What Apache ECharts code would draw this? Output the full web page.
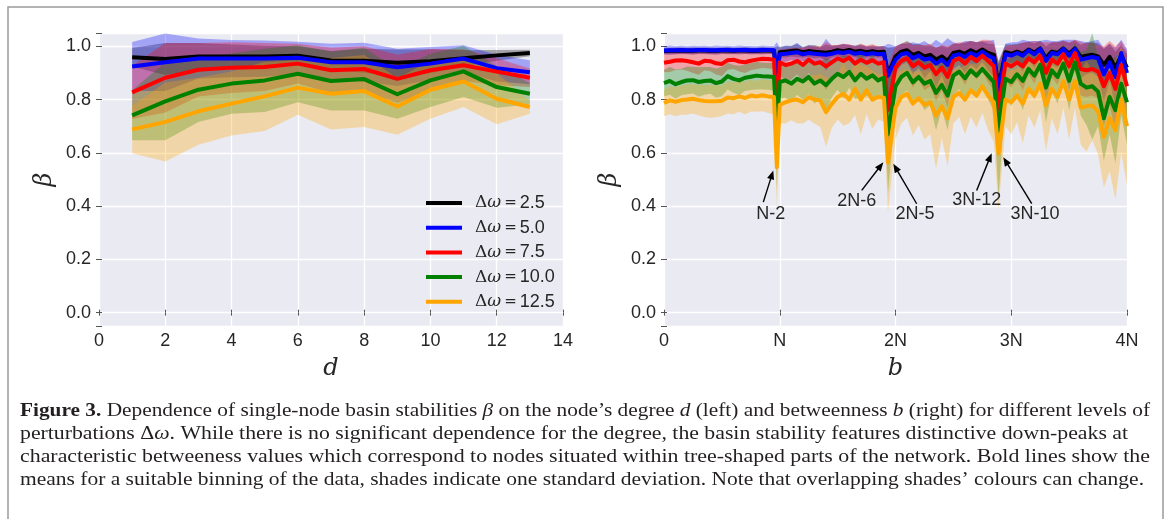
<!DOCTYPE html>
<html><head><meta charset="utf-8">
<script src="https://cdn.jsdelivr.net/npm/echarts@6/dist/echarts.min.js"></script>
<style>html,body{margin:0;padding:0;background:#fff}#c{width:1169px;height:519px}</style>
</head><body><div id="c"></div>
<script>
// ---------- series names / colours ----------
const names = ['Δω=2.5','Δω=5.0','Δω=7.5','Δω=10.0','Δω=12.5'];
const lineColors = ['#000000','#0000ff','#ff0000','#008000','#ffa500'];
const bandColors = ['rgba(0,0,0,0.3)','rgba(0,0,255,0.3)','rgba(255,0,0,0.3)','rgba(0,128,0,0.3)','rgba(255,165,0,0.3)'];

// ---------- left panel: degree d ----------
const dX = [1,2,3,4,5,6,7,8,9,10,11,12,13];
const dBlack  = [0.959,0.952,0.962,0.962,0.962,0.965,0.947,0.946,0.938,0.944,0.955,0.966,0.975];
const dBlue   = [0.924,0.940,0.954,0.954,0.954,0.957,0.940,0.940,0.921,0.935,0.954,0.918,0.903];
const dRed    = [0.827,0.882,0.912,0.920,0.922,0.935,0.910,0.915,0.878,0.910,0.929,0.905,0.882];
const dGreen  = [0.741,0.793,0.837,0.860,0.872,0.897,0.870,0.877,0.820,0.872,0.906,0.847,0.822];
const dOrange = [0.688,0.716,0.756,0.785,0.812,0.845,0.822,0.832,0.774,0.837,0.868,0.803,0.772];
const dBlackSd  = [0.035,0.06,0.05,0.045,0.04,0.035,0.035,0.045,0.05,0.045,0.03,0.02,0.012];
const dBlueSd   = [0.092,0.108,0.075,0.07,0.068,0.06,0.07,0.073,0.07,0.062,0.05,0.05,0.045];
const dRedSd    = [0.10,0.13,0.10,0.095,0.09,0.075,0.085,0.085,0.09,0.08,0.06,0.05,0.035];
const dGreenSd  = [0.094,0.146,0.121,0.113,0.119,0.107,0.111,0.118,0.092,0.100,0.096,0.078,0.04];
const dOrangeSd = [0.089,0.148,0.126,0.120,0.130,0.102,0.134,0.135,0.106,0.109,0.096,0.096,0.025];

// ---------- right panel: betweenness b (in units of N) ----------
const bX = [0,0.05,0.1,0.15,0.2,0.25,0.3,0.35,0.4,0.45,0.5,0.55,0.6,0.65,0.7,0.75,0.8,0.85,0.9,0.95,0.975,
 1,1.05,1.1,1.15,1.2,1.25,1.3,1.35,1.4,1.45,1.5,1.55,1.6,1.65,1.7,1.75,1.8,1.85,1.9,1.935,
 2,2.05,2.1,2.15,2.2,2.25,2.3,2.35,2.4,2.45,2.5,2.55,2.6,2.65,2.7,2.75,2.8,2.85,2.89,
 2.95,3,3.05,3.1,3.15,3.2,3.25,3.3,3.35,3.4,3.45,3.5,3.55,3.6,3.65,3.7,3.75,3.8,3.85,3.9,3.95,4];
const bTickLabels = ['0','N','2N','3N','4N'];

const bBlack = [0.982,0.983,0.983,0.984,0.983,0.983,0.984,0.984,0.983,0.983,0.984,0.984,0.983,0.984,0.984,0.983,0.983,0.984,0.984,0.983,0.880,
 0.978,0.980,0.982,0.984,0.978,0.982,0.980,0.978,0.976,0.980,0.985,0.982,0.986,0.980,0.983,0.978,0.982,0.978,0.980,0.895,
 0.962,0.980,0.985,0.968,0.975,0.962,0.968,0.950,0.962,0.945,0.975,0.980,0.972,0.985,0.975,0.988,0.975,0.968,0.845,
 0.978,0.972,0.980,0.972,0.988,0.976,0.992,0.955,0.980,0.975,0.992,0.972,0.992,0.960,0.965,0.968,0.962,0.930,0.960,0.920,0.965,0.920];
const bBlue = [0.984,0.985,0.985,0.986,0.985,0.985,0.986,0.986,0.985,0.985,0.986,0.986,0.985,0.986,0.986,0.985,0.985,0.986,0.986,0.985,0.885,
 0.970,0.972,0.975,0.978,0.970,0.975,0.972,0.970,0.968,0.972,0.978,0.975,0.980,0.972,0.976,0.970,0.974,0.970,0.972,0.890,
 0.950,0.970,0.975,0.955,0.965,0.950,0.955,0.935,0.950,0.930,0.965,0.970,0.960,0.975,0.965,0.980,0.965,0.955,0.835,
 0.970,0.965,0.975,0.965,0.985,0.970,0.990,0.945,0.975,0.970,0.990,0.965,0.990,0.950,0.955,0.960,0.955,0.895,0.940,0.885,0.975,0.900];
const bRed = [0.938,0.942,0.947,0.948,0.945,0.940,0.935,0.946,0.944,0.936,0.934,0.948,0.950,0.943,0.940,0.946,0.950,0.953,0.952,0.950,0.748,
 0.940,0.930,0.935,0.945,0.930,0.950,0.935,0.940,0.925,0.940,0.955,0.945,0.958,0.935,0.950,0.938,0.948,0.935,0.940,0.760,
 0.920,0.945,0.955,0.925,0.940,0.920,0.930,0.895,0.920,0.885,0.945,0.955,0.935,0.960,0.945,0.965,0.945,0.925,0.766,
 0.935,0.925,0.940,0.925,0.955,0.940,0.965,0.900,0.950,0.935,0.970,0.925,0.975,0.915,0.910,0.915,0.905,0.850,0.900,0.840,0.930,0.850];
const bGreen = [0.862,0.870,0.858,0.866,0.872,0.873,0.866,0.870,0.872,0.862,0.868,0.888,0.878,0.872,0.882,0.886,0.890,0.888,0.887,0.885,0.684,
 0.866,0.872,0.860,0.878,0.868,0.885,0.860,0.872,0.854,0.878,0.897,0.885,0.904,0.872,0.897,0.878,0.891,0.872,0.882,0.670,
 0.850,0.885,0.900,0.865,0.885,0.860,0.870,0.825,0.855,0.815,0.890,0.905,0.880,0.910,0.890,0.915,0.890,0.865,0.684,
 0.878,0.866,0.895,0.870,0.915,0.890,0.930,0.845,0.910,0.885,0.935,0.870,0.940,0.860,0.845,0.850,0.830,0.730,0.810,0.760,0.860,0.790];
const bOrange = [0.787,0.797,0.792,0.798,0.800,0.803,0.798,0.795,0.794,0.794,0.796,0.808,0.805,0.812,0.806,0.815,0.812,0.816,0.812,0.810,0.546,
 0.780,0.790,0.797,0.800,0.790,0.809,0.800,0.797,0.753,0.784,0.810,0.822,0.800,0.841,0.800,0.835,0.800,0.810,0.807,0.565,
 0.770,0.810,0.822,0.785,0.805,0.780,0.790,0.740,0.775,0.730,0.810,0.825,0.800,0.835,0.815,0.850,0.815,0.790,0.597,
 0.800,0.790,0.815,0.785,0.840,0.815,0.860,0.778,0.840,0.810,0.870,0.800,0.870,0.770,0.775,0.778,0.755,0.660,0.730,0.685,0.800,0.700];

const bBlackSd = [0.012,0.012,0.013,0.012,0.012,0.013,0.012,0.012,0.013,0.012,0.012,0.013,0.012,0.012,0.013,0.012,0.012,0.013,0.012,0.012,0.12,
 0.02,0.022,0.02,0.025,0.02,0.022,0.025,0.02,0.03,0.022,0.02,0.025,0.02,0.022,0.025,0.02,0.022,0.02,0.022,0.1,
 0.035,0.03,0.035,0.04,0.035,0.04,0.035,0.045,0.04,0.05,0.035,0.03,0.04,0.035,0.04,0.03,0.035,0.04,0.1,
 0.03,0.035,0.03,0.04,0.03,0.035,0.03,0.045,0.035,0.04,0.03,0.04,0.03,0.045,0.05,0.045,0.05,0.06,0.05,0.06,0.04,0.05];
const bBlueSd = [0.015,0.018,0.015,0.016,0.015,0.017,0.015,0.016,0.015,0.018,0.015,0.016,0.015,0.017,0.015,0.016,0.015,0.017,0.015,0.016,0.13,
 0.025,0.03,0.025,0.035,0.025,0.03,0.028,0.025,0.06,0.03,0.025,0.035,0.025,0.03,0.028,0.03,0.025,0.03,0.028,0.12,
 0.05,0.04,0.035,0.06,0.045,0.07,0.05,0.09,0.06,0.1,0.05,0.04,0.06,0.045,0.05,0.04,0.055,0.07,0.1,
 0.04,0.05,0.04,0.06,0.035,0.05,0.03,0.08,0.045,0.05,0.035,0.06,0.035,0.07,0.06,0.06,0.07,0.1,0.07,0.11,0.05,0.09];
const bRedSd = [0.035,0.038,0.036,0.035,0.037,0.04,0.042,0.036,0.038,0.042,0.045,0.036,0.035,0.038,0.04,0.036,0.035,0.034,0.035,0.036,0.15,
 0.05,0.06,0.06,0.05,0.065,0.05,0.065,0.06,0.09,0.065,0.05,0.065,0.05,0.065,0.06,0.065,0.06,0.065,0.06,0.17,
 0.08,0.065,0.06,0.08,0.065,0.085,0.08,0.1,0.085,0.115,0.065,0.06,0.08,0.06,0.07,0.06,0.08,0.09,0.17,
 0.065,0.08,0.065,0.09,0.06,0.08,0.05,0.115,0.065,0.08,0.05,0.09,0.05,0.1,0.1,0.1,0.1,0.15,0.12,0.16,0.09,0.13];
const bGreenSd = [0.05,0.052,0.055,0.05,0.052,0.05,0.055,0.052,0.05,0.055,0.055,0.05,0.052,0.055,0.05,0.05,0.052,0.05,0.05,0.052,0.22,
 0.06,0.065,0.07,0.06,0.07,0.065,0.075,0.07,0.1,0.07,0.06,0.08,0.06,0.07,0.09,0.065,0.08,0.065,0.07,0.22,
 0.09,0.07,0.065,0.09,0.075,0.1,0.09,0.14,0.09,0.13,0.075,0.065,0.09,0.07,0.085,0.07,0.09,0.11,0.25,
 0.07,0.09,0.075,0.11,0.07,0.09,0.07,0.13,0.08,0.1,0.07,0.11,0.07,0.12,0.14,0.2,0.13,0.16,0.14,0.2,0.12,0.16];
const bOrangeSd = [0.05,0.052,0.055,0.055,0.057,0.055,0.058,0.06,0.062,0.06,0.058,0.06,0.06,0.058,0.062,0.06,0.058,0.06,0.062,0.065,0.15,
 0.07,0.08,0.075,0.09,0.08,0.085,0.09,0.1,0.13,0.09,0.085,0.12,0.09,0.1,0.13,0.09,0.11,0.085,0.09,0.19,
 0.12,0.1,0.09,0.12,0.1,0.13,0.12,0.2,0.12,0.18,0.1,0.09,0.13,0.1,0.12,0.1,0.13,0.15,0.21,
 0.1,0.12,0.1,0.15,0.1,0.12,0.1,0.17,0.11,0.14,0.1,0.15,0.1,0.14,0.17,0.13,0.16,0.19,0.2,0.26,0.2,0.22];

// ---------- annotations (data coords of right panel) ----------
const annoLabels = ['N-2','2N-6','2N-5','3N-12','3N-10'];
const annoTextAt = [[0.922,0.371],[1.665,0.421],[2.168,0.371],[2.701,0.424],[3.205,0.371]];
const annoFrom = [[0.858,0.415],[1.708,0.459],[2.183,0.409],[2.701,0.459],[3.177,0.409]];
const annoTo   = [[0.944,0.534],[1.895,0.565],[1.981,0.559],[2.831,0.599],[2.931,0.584]];

// ---------- caption ----------
const capLines = [
 [['b','Figure 3.'],['r',' Dependence of single-node basin stabilities '],['i','β'],['r',' on the node’s degree '],['i','d'],['r',' (left) and betweenness '],['i','b'],['r',' (right) for different levels of']],
 [['r','perturbations '],['r','Δ'],['i','ω'],['r','. While there is no significant dependence for the degree, the basin stability features distinctive down-peaks at']],
 [['r','characteristic betweeness values which correspond to nodes situated within tree-shaped parts of the network. Bold lines show the']],
 [['r','means for a suitable binning of the data, shades indicate one standard deviation. Note that overlapping shades’ colours can change.']]
];
const capRight = [1150,1128,1150,1144];
const capY = [411,434,457,480];

// ================= build =================
const CAP_SIZE = 19, CAP_FAM = 'Liberation Serif';
const capFonts = {r: CAP_SIZE+'px "'+CAP_FAM+'"', b: 'bold '+CAP_SIZE+'px "'+CAP_FAM+'"', i: 'italic '+CAP_SIZE+'px "'+CAP_FAM+'"'};
const mctx = document.createElement('canvas').getContext('2d');
function capWidth(parts){ let w=0; parts.forEach(p=>{ mctx.font = capFonts[p[0]]; w += mctx.measureText(p[1]).width; }); return w; }
const capRich = {
  r:{fontFamily:CAP_FAM,fontSize:CAP_SIZE,fill:'#231f20'},
  b:{fontFamily:CAP_FAM,fontSize:CAP_SIZE,fontWeight:'bold',fill:'#231f20'},
  i:{fontFamily:CAP_FAM,fontSize:CAP_SIZE,fontStyle:'italic',fill:'#231f20'}
};
const graphics = [{type:'rect', silent:true, shape:{x:8,y:7,width:1155,height:600}, style:{fill:'none',stroke:'#9a9a9a',lineWidth:1.5}}];
capLines.forEach((parts,k)=>{
  const w = capWidth(parts);
  graphics.push({type:'text', silent:true, x:20, y:capY[k], scaleX:(capRight[k]-20)/w,
    style:{text: parts.map(p=>'{'+p[0]+'|'+p[1]+'}').join(''), rich:capRich, verticalAlign:'middle', align:'left', fill:'#231f20'}});
});

function pairs(xs, ys){ return xs.map((x,i)=>[x, ys[i]]); }
// shaded band mean ± sd, drawn as one polygon through the axis scales
function band(xs, mean, sd, xi, yi, color){
  return {type:'custom', xAxisIndex:xi, yAxisIndex:yi, clip:true, silent:true, z:1,
    data: xs.map((x,i)=>[x, mean[i]-sd[i], mean[i]+sd[i]]),
    encode:{x:0, y:[1,2]},
    renderItem:(params, api)=>{
      if (params.dataIndex !== 0) return null;
      const up = xs.map((x,i)=>api.coord([x, mean[i]+sd[i]]));
      const lo = xs.map((x,i)=>api.coord([x, mean[i]-sd[i]])).reverse();
      return {type:'polygon', shape:{points: up.concat(lo)}, style:{fill:color, stroke:null}};
    }};
}
function line(xs, ys, xi, yi, k){
  return {type:'line', name:names[k], xAxisIndex:xi, yAxisIndex:yi, data:pairs(xs,ys), symbol:'none',
    lineStyle:{width:4, color:lineColors[k], join:'round', cap:'butt'}, itemStyle:{color:lineColors[k]}, z:3, silent:true};
}
const dMeans = [dBlack,dBlue,dRed,dGreen,dOrange], dSds = [dBlackSd,dBlueSd,dRedSd,dGreenSd,dOrangeSd];
const bMeans = [bBlack,bBlue,bRed,bGreen,bOrange], bSds = [bBlackSd,bBlueSd,bRedSd,bGreenSd,bOrangeSd];

const series = [];
for (let k=0;k<5;k++) series.push(band(dX, dMeans[k], dSds[k], 0, 0, bandColors[k]));
for (let k=0;k<5;k++) series.push(band(bX, bMeans[k], bSds[k], 1, 1, bandColors[k]));
for (let k=0;k<5;k++) series.push(line(dX, dMeans[k], 0, 0, k));
for (let k=0;k<5;k++) series.push(line(bX, bMeans[k], 1, 1, k));
// annotation arrows + labels, positioned through the right panel's axes
series.push({type:'custom', xAxisIndex:1, yAxisIndex:1, z:6, silent:true, clip:false,
  data: annoLabels.map((t,i)=>[annoFrom[i][0],annoFrom[i][1],annoTo[i][0],annoTo[i][1],annoTextAt[i][0],annoTextAt[i][1]]),
  encode:{x:[0,2,4], y:[1,3,5]},
  renderItem:(params, api)=>{
    const a = api.coord([api.value(0), api.value(1)]);
    const b = api.coord([api.value(2), api.value(3)]);
    const t = api.coord([api.value(4), api.value(5)]);
    const dx = b[0]-a[0], dy = b[1]-a[1], L = Math.hypot(dx,dy), ux = dx/L, uy = dy/L;
    const hl = 9, hw = 3.6;
    const base = [b[0]-ux*hl, b[1]-uy*hl];
    const p1 = [base[0]-uy*hw, base[1]+ux*hw], p2 = [base[0]+uy*hw, base[1]-ux*hw];
    return {type:'group', children:[
      {type:'line', shape:{x1:a[0],y1:a[1],x2:base[0]+ux*2,y2:base[1]+uy*2}, style:{stroke:'#000', lineWidth:1.4}},
      {type:'polygon', shape:{points:[b,p1,p2]}, style:{fill:'#000'}},
      {type:'text', x:t[0], y:t[1], style:{text:annoLabels[params.dataIndex], align:'center', verticalAlign:'middle',
        fontSize:18, fontFamily:'Liberation Sans', fill:'#262626'}}
    ]};
  }
});

const tickLabel = {fontSize:18, color:'#262626', fontFamily:'Liberation Sans'};
const nameStyle = {fontFamily:'DejaVu Serif', fontStyle:'italic', fontSize:24, color:'#262626'};
const tick = {show:true, length:3, lineStyle:{color:'#555', width:1}};
const split = {show:true, lineStyle:{color:'#ffffff', width:1.3}};
function yFmt(v){ return (v < -0.001 || v > 1.001) ? '' : v.toFixed(1); }

const option = {
  animation:false,
  textStyle:{fontFamily:'Liberation Sans'},
  grid:[
    {left:99, top:33, width:464, height:293, show:true, backgroundColor:'#EAEAF2', borderWidth:0},
    {left:664, top:33, width:463, height:293, show:true, backgroundColor:'#EAEAF2', borderWidth:0}
  ],
  xAxis:[
    {gridIndex:0, type:'value', min:0, max:14, interval:2, axisLine:{show:false}, axisTick:tick, splitLine:split,
     axisLabel:Object.assign({margin:6}, tickLabel), name:'d', nameLocation:'middle', nameGap:31, nameTextStyle:nameStyle},
    {gridIndex:1, type:'value', min:0, max:4, interval:1, axisLine:{show:false}, axisTick:tick, splitLine:split,
     axisLabel:Object.assign({margin:6, formatter:v=>bTickLabels[Math.round(v)]}, tickLabel), name:'b', nameLocation:'middle', nameGap:31, nameTextStyle:nameStyle},
    {gridIndex:0, type:'value', position:'top', min:0, max:14, interval:2, axisLine:{show:false}, axisTick:tick, splitLine:{show:false}, axisLabel:{show:false}},
    {gridIndex:1, type:'value', position:'top', min:0, max:4, interval:1, axisLine:{show:false}, axisTick:tick, splitLine:{show:false}, axisLabel:{show:false}}
  ],
  yAxis:[
    {gridIndex:0, type:'value', min:-0.05, max:1.05, splitNumber:5, axisLine:{show:false}, axisTick:tick, splitLine:split,
     axisLabel:Object.assign({margin:8, formatter:yFmt}, tickLabel), name:'β', nameLocation:'middle', nameGap:42, nameRotate:90, nameTextStyle:nameStyle},
    {gridIndex:1, type:'value', min:-0.05, max:1.05, splitNumber:5, axisLine:{show:false}, axisTick:tick, splitLine:split,
     axisLabel:Object.assign({margin:8, formatter:yFmt}, tickLabel), name:'β', nameLocation:'middle', nameGap:42, nameRotate:90, nameTextStyle:nameStyle},
    {gridIndex:0, type:'value', position:'right', min:-0.05, max:1.05, splitNumber:5, axisLine:{show:false}, axisTick:tick, splitLine:{show:false}, axisLabel:{show:false}},
    {gridIndex:1, type:'value', position:'right', min:-0.05, max:1.05, splitNumber:5, axisLine:{show:false}, axisTick:tick, splitLine:{show:false}, axisLabel:{show:false}}
  ],
  legend:{data:names, orient:'vertical', left:421, top:189, itemWidth:36, itemHeight:4, itemGap:6.7, icon:'rect',
    selectedMode:false,
    formatter:n=>'{s| }{g|Δ}{w|ω}{e|=}{n|'+n.split('=')[1]+'}',
    textStyle:{rich:{
      s:{width:8},
      g:{fontFamily:'DejaVu Serif', fontSize:17, color:'#262626'},
      w:{fontFamily:'DejaVu Serif', fontStyle:'italic', fontSize:17, color:'#262626'},
      e:{fontFamily:'DejaVu Serif', fontSize:15, color:'#262626', padding:[0,3,0,3]},
      n:{fontFamily:'Liberation Sans', fontSize:18, color:'#262626'}
    }}},
  graphic:graphics,
  series:series
};
const chart = echarts.init(document.getElementById('c'));
chart.setOption(option);
</script>
</body></html>
